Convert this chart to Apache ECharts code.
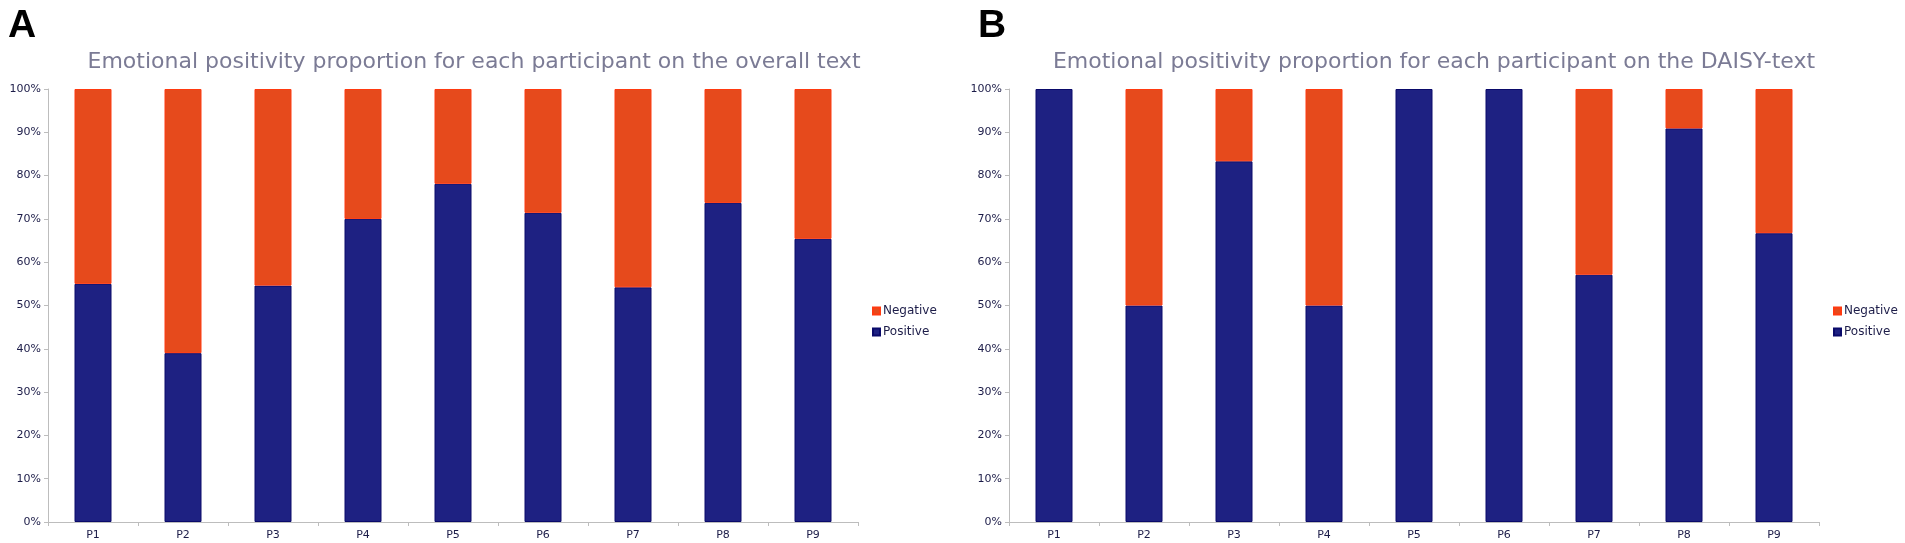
<!DOCTYPE html>
<html>
<head>
<meta charset="utf-8">
<script src="https://cdn.jsdelivr.net/npm/echarts@6/dist/echarts.min.js"></script>
<style>html,body{margin:0;padding:0;background:#fff;}#c{width:1905px;height:543px;}</style>
</head>
<body>
<div id="c"></div>
<script>
var categories = ['P1','P2','P3','P4','P5','P6','P7','P8','P9'];
var overallPositive = [55, 39, 54.6, 70, 78.1, 71.4, 54.2, 73.7, 65.4];
var overallNegative = [45, 61, 45.4, 30, 21.9, 28.6, 45.8, 26.3, 34.6];
var daisyPositive = [100, 50, 83.3, 50, 100, 100, 57.1, 90.9, 66.7];
var daisyNegative = [0, 50, 16.7, 50, 0, 0, 42.9, 9.1, 33.3];
var yTicks = {min: 0, max: 100, interval: 10};

var chart = echarts.init(document.getElementById('c'));
var posColor = '#1e2182', negColor = '#e64a1c';
var txt = '#1c1c48';
var font = 'DejaVu Sans';

function xAxis(i){
  return {type:'category', gridIndex:i, data:categories,
    axisLine:{lineStyle:{color:'#bdbdbd', width:1}},
    axisTick:{show:true, length:4, lineStyle:{color:'#bdbdbd'}},
    axisLabel:{color:txt, fontSize:11, fontFamily:font, margin:8}};
}
function yAxis(i){
  return {type:'value', gridIndex:i, min:yTicks.min, max:yTicks.max, interval:yTicks.interval,
    axisLine:{show:true, lineStyle:{color:'#bdbdbd', width:1}},
    axisTick:{show:true, length:4, lineStyle:{color:'#bdbdbd'}},
    splitLine:{show:false},
    axisLabel:{color:txt, fontSize:11, fontFamily:font, formatter:'{value}%', margin:7}};
}
function bar(name, data, i, color, border){
  // zero-height segments are left out so their border is not drawn
  var d = data.map(function(v){ return v === 0 ? '-' : v; });
  return {name:name, type:'bar', stack:'s'+i, xAxisIndex:i, yAxisIndex:i, data:d,
    barWidth:37,
    itemStyle:{color:color, borderColor:border, borderWidth:1},
    emphasis:{disabled:true}};
}

chart.setOption({
  animation:false,
  title:[
    {text:'A', left:3, top:2, textStyle:{fontFamily:'Liberation Sans', fontWeight:'bold', fontSize:39, color:'#000'}},
    {text:'B', left:973, top:2, textStyle:{fontFamily:'Liberation Sans', fontWeight:'bold', fontSize:39, color:'#000'}},
    {text:'Emotional positivity proportion for each participant on the overall text', left:469, textAlign:'center', top:46,
      textStyle:{fontFamily:font, fontWeight:'normal', fontSize:22, color:'#7b7b95'}},
    {text:'Emotional positivity proportion for each participant on the DAISY-text', left:1429, textAlign:'center', top:46,
      textStyle:{fontFamily:font, fontWeight:'normal', fontSize:22, color:'#7b7b95'}}
  ],
  legend:[
    {data:['Negative','Positive'].map(function(n){return {name:n};}), left:867, top:300, orient:'vertical',
      itemWidth:7, itemHeight:7, itemGap:9, icon:'rect',
      textStyle:{fontFamily:font, fontSize:12, color:txt, padding:[0,0,0,-2]}},
    {data:['Negative','Positive'].map(function(n){return {name:n};}), left:1828, top:300, orient:'vertical',
      itemWidth:7, itemHeight:7, itemGap:9, icon:'rect',
      textStyle:{fontFamily:font, fontSize:12, color:txt, padding:[0,0,0,-2]}}
  ],
  grid:[
    {left:48, top:89, width:810, height:433},
    {left:1009, top:89, width:810, height:433}
  ],
  xAxis:[xAxis(0), xAxis(1)],
  yAxis:[yAxis(0), yAxis(1)],
  series:[
    bar('Positive', overallPositive, 0, posColor, '#0a0a6a'),
    bar('Negative', overallNegative, 0, negColor, '#ff3a10'),
    bar('Positive', daisyPositive, 1, posColor, '#0a0a6a'),
    bar('Negative', daisyNegative, 1, negColor, '#ff3a10')
  ]
});
</script>
</body>
</html>
